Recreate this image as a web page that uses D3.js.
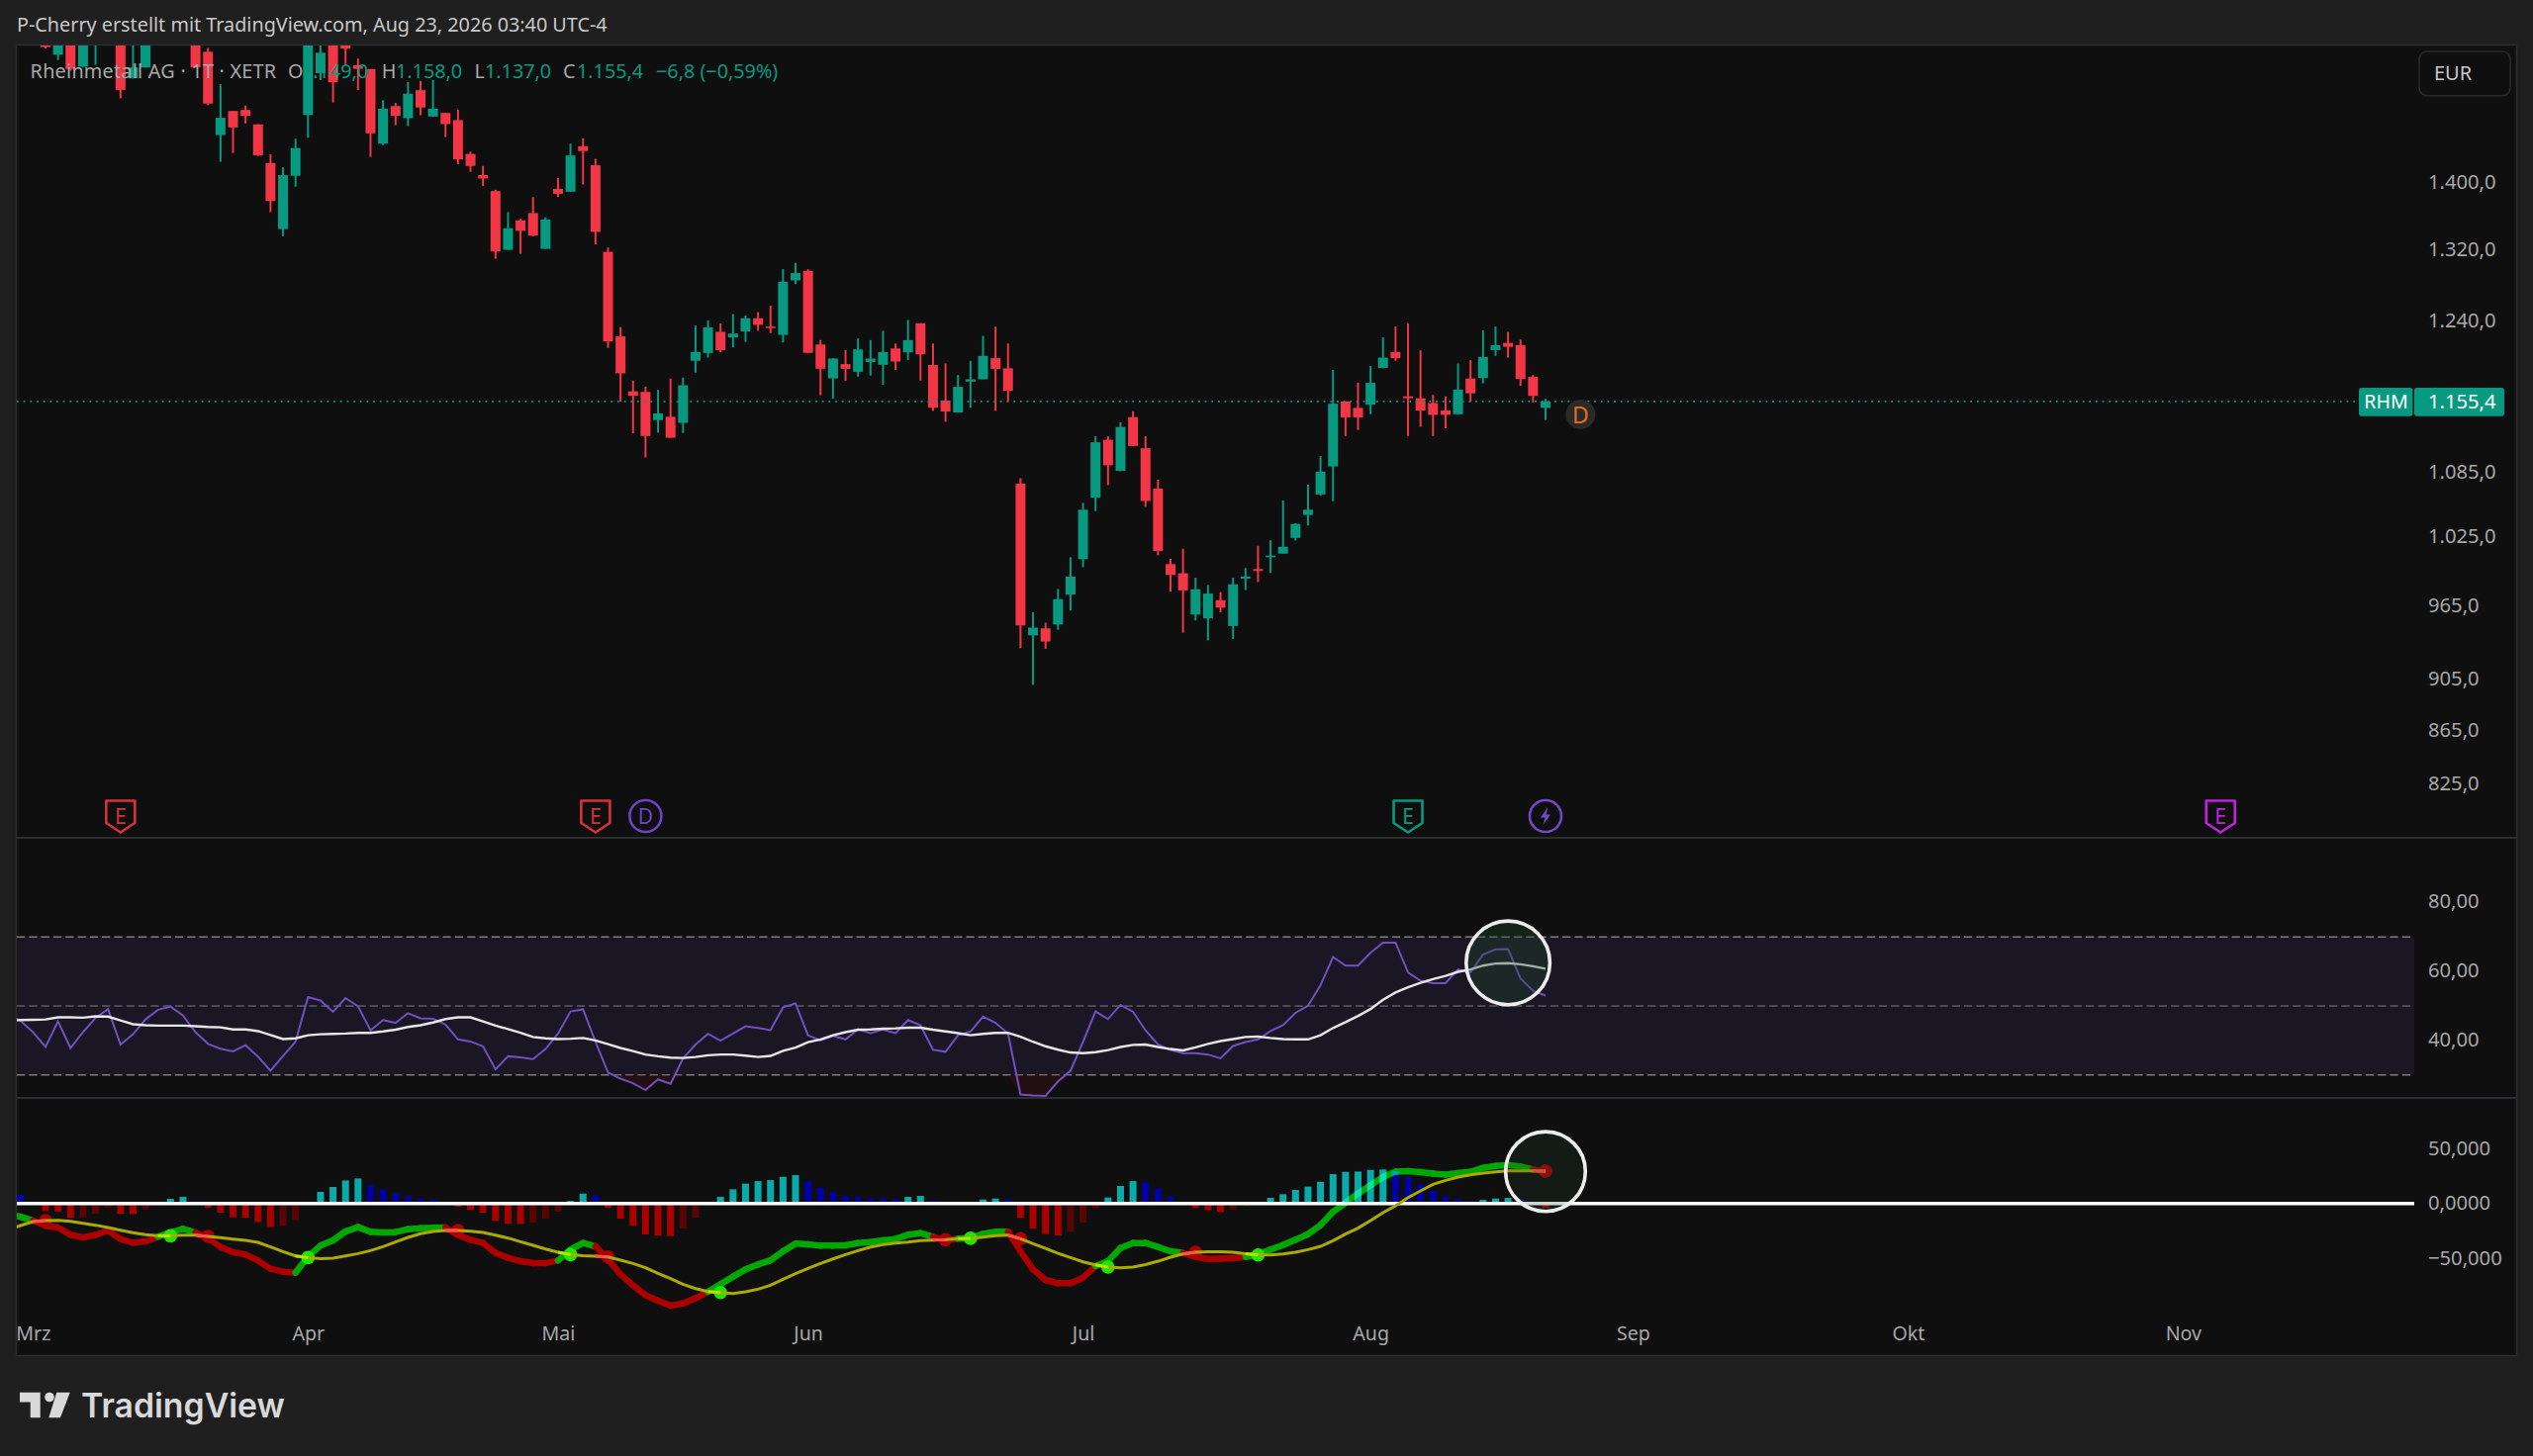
<!DOCTYPE html>
<html><head><meta charset="utf-8">
<script src="https://cdn.jsdelivr.net/npm/d3@7/dist/d3.min.js"></script>
<style>html,body{margin:0;background:#1f1f1f}svg{display:block}text{font-family:"Noto Sans",sans-serif}</style>
</head><body><svg id="c" width="2560" height="1472"></svg>
<script>
// ---------- data (bar index 0 = first candle shown) ----------
const opens=[1596,1567.5,1600,1551,1590,1640,1600,1535.3,1550,1610,1660,1630,1600,1571.5,1460.6,1491.8,1493.1,1474.3,1425.1,1344.5,1409.1,1486.5,1542.4,1590,1590,1553,1547.8,1449.5,1498.2,1482.4,1519.3,1484.5,1489.2,1479.8,1436.5,1410,1390.3,1320.3,1355,1363.6,1321.4,1393,1389.5,1446.1,1422.3,1318,1223.5,1165.8,1165.2,1136.7,1140,1133.9,1197.5,1205.8,1228.4,1222.4,1228.8,1243.2,1234.1,1225.2,1285.3,1296.2,1214.8,1179.1,1194,1186,1196.2,1193.4,1210.6,1206.5,1237.7,1193.1,1156.5,1144.3,1175.8,1178.2,1200.3,1189.6,1074.8,940.6,946.4,949.7,974.9,1005.8,1061.7,1117.2,1087.1,1139.7,1108.9,1070.1,1001.4,993.4,958,954.7,970.2,948.4,988.8,997.1,1007.5,1010.7,1024.8,1045.7,1064.7,1091.2,1155.4,1148.9,1152.2,1190,1206.8,1160.7,1158.7,1153.8,1146.3,1142.6,1179,1179.5,1208.9,1216.6,1214.1,1180.7,1149];
const highs=[1602,1605,1610,1615,1620,1660,1610,1590,1610,1660,1670,1640,1610,1577,1527.3,1491.8,1499,1474.3,1435.8,1419.8,1455.9,1600,1590,1600,1600,1562.1,1547.8,1505.9,1502.5,1530,1531.7,1533,1489.2,1493.6,1439.4,1421.4,1391.9,1364.8,1356.6,1383,1358.6,1406.3,1449.5,1456.3,1430.4,1323,1233.5,1176.9,1170.7,1167.3,1179,1180,1235.2,1240.7,1237.4,1247.8,1246.1,1249.8,1256.9,1298.1,1305.2,1298.1,1219.5,1200.3,1208.9,1221.3,1219.5,1229.6,1215.9,1241.4,1237.7,1215.9,1194.7,1182.8,1197.5,1224.1,1234.1,1215.9,1080.1,960,951.1,979.7,1007.5,1056.8,1120.6,1120.6,1134.4,1145.6,1120.6,1078.6,1006.1,1015.1,989.6,983.2,977.1,989.6,998,1017.7,1022.7,1059,1038.2,1073.9,1101.3,1187.9,1155.7,1174.8,1192,1222.4,1234.1,1237.4,1208.6,1162.1,1160.7,1194.7,1198.2,1230.2,1234.1,1228.4,1220.2,1182.8,1158];
const lows=[1576,1560,1545.5,1550,1553.6,1590,1508.5,1535,1550,1600,1610,1590,1550,1499.5,1426.7,1437.7,1475.6,1434,1364.8,1336.2,1395.6,1457.2,1533,1502.9,1554.5,1519.7,1432.8,1447.7,1473.4,1472.1,1486.2,1484.1,1458,1423.5,1414,1396.5,1310,1320.3,1315.8,1336.2,1321.4,1383,1389.5,1398.4,1326.5,1211.2,1155.4,1123.6,1100,1124.2,1119.2,1123.9,1185.1,1200.9,1206.5,1211.7,1217.6,1229.6,1227,1217,1281.2,1206,1161.7,1158.3,1176.7,1180.9,1182,1172.4,1187.9,1198.2,1176.9,1145.9,1135,1144.3,1149.2,1178.2,1145.9,1155.5,930,900.5,929.5,945.3,961.3,998.8,1049.3,1073.5,1086.7,1111.1,1053.2,1009.2,977.5,942.8,953,936.4,960,937.6,978.9,985.8,993.6,1010.7,1022.4,1036,1063.8,1058.4,1120.9,1126.8,1142.6,1189.6,1197.5,1120.9,1130,1120.9,1128.5,1142.6,1155.2,1174,1202.7,1200.9,1171.4,1154.5,1137];
const closes=[1578,1596,1548,1600,1610,1600,1519.7,1550,1600,1650,1625,1600,1550,1501.6,1482.9,1470.4,1485.4,1434.9,1378.2,1410,1443.9,1590,1570.2,1530,1576,1548,1462.8,1494.8,1485.4,1514.7,1496.4,1494.8,1474.7,1429.6,1421.4,1405.8,1318.5,1345.6,1342.5,1336.9,1355.9,1387,1434.5,1440.2,1341.3,1218.1,1184.4,1161.1,1120.9,1143.3,1119.2,1172,1206.8,1233.2,1208.9,1226.6,1243.2,1236,1232.6,1283.8,1293.6,1206,1189.2,1199.9,1189.1,1209.6,1199.9,1206.8,1196.8,1219.5,1204.4,1149.2,1145.3,1170.4,1178.2,1202.7,1189,1166.3,948.9,947,935.6,971,990.5,1050.5,1114.7,1092.4,1129.8,1111.1,1058.6,1013.1,991.9,978.6,979.5,975.8,963.8,983.8,990.5,995.4,1009,1016.8,1037.5,1050.5,1086.3,1153.2,1139.4,1139.4,1174.5,1200.9,1200.3,1158.7,1146.3,1141.9,1141.9,1167.6,1163.8,1201.6,1214.1,1212.3,1178.6,1161.1,1155.4];
// indicator arrays start three bars before the first candle
const indicatorStart=-3;
const rsi=[47.7,45.7,42.4,38.1,45.5,37.8,42.4,46.5,49.1,38.8,41.8,46.1,48.9,49.8,47.2,42.4,39,37.6,36.8,38.6,35.3,31.2,35.5,39.6,52.6,51.6,48.3,52.3,49.9,42.9,45.9,45.1,47.9,46.4,46.3,44.6,40.3,39.7,38.3,31.6,35.4,35.1,34.6,37.5,42,48.4,49,39.6,30.7,28.9,27.6,25.6,28.7,27.4,34.8,38.8,41.9,39.9,42,44.1,43.6,43,49.6,50.7,41.5,40,41.3,40.3,43.2,42.1,43.2,42.1,45.9,44.4,37.3,36.7,41.5,42.6,46.9,45.1,42,24.3,24,23.9,28.1,31.2,39.6,48.4,46.2,50.3,48.3,42.9,38.8,37.2,36.3,36.3,35.9,34.8,38.4,39.5,40.3,42.7,44.4,48,50.1,56,64.2,61.7,61.7,65.4,68.4,68.4,59.7,57.3,56.6,56.6,60.6,59.7,64.9,66.4,66.5,58,54.4,53];
const rsiMA=[45.8,45.9,46,46.1,46.7,46.7,46.6,47,46.9,45.8,44.7,44.4,44.3,44.3,44.3,44.1,43.9,43.8,43.2,43.2,42.7,41.6,40.4,40.6,41.5,41.8,41.9,42,42.2,42.2,42.6,43.1,43.9,44.4,45.2,46.2,46.7,46.7,45.5,44.3,43.3,42.2,41,40.6,40.4,40.5,40.7,40,38.9,37.8,36.9,35.9,35.4,35,34.9,35.2,35.7,35.9,35.9,35.6,35.2,35.5,37,37.9,39.5,40.3,41.5,42.4,43.1,43.2,43.4,43.5,43.7,43.7,43.1,42.6,42.1,41.5,41.9,42.2,42.2,41.1,39.6,38.3,37.3,36.5,36.3,36.6,37.2,38.1,38.7,38.8,38.1,37.5,37.1,38,39,39.8,40.4,41,41.1,40.7,40.4,40.3,40.3,41.5,43.6,45.3,47.1,49.1,51.8,53.9,55.4,56.7,57.8,58.7,59.9,60.6,61.7,62.3,62.4,62.1,61.5,60.8];
const macdLine=[-9.6,-12,-15.6,-20.3,-21.8,-28.4,-30.8,-28.7,-24.5,-32.3,-35.6,-34.4,-30.2,-26.3,-23,-26.3,-31.4,-39.5,-44.3,-46.4,-51.8,-59.2,-61.9,-62.8,-48,-38.3,-33.5,-25.4,-21.5,-25.7,-26.3,-26,-23.3,-22.4,-22.1,-21.8,-28.7,-32.9,-35.9,-44.9,-49.4,-52.4,-54.2,-54.2,-51.8,-41.9,-35.9,-38.9,-50.9,-64.3,-74.2,-83.2,-88.3,-92.8,-90.7,-85.9,-80.2,-73.3,-66.4,-59.8,-55.4,-51.5,-43.4,-36.5,-37.1,-38.3,-38.3,-38,-35.9,-35,-33.5,-32.3,-28.4,-26.9,-30.5,-33.2,-32,-31.4,-27.5,-25.7,-25.7,-43.4,-59.8,-69.4,-72.4,-72.4,-67.3,-56.9,-52.4,-40.4,-35.9,-35.9,-39.5,-43.4,-45,-48.5,-50.3,-50,-49.7,-48.5,-46.4,-41.9,-37.7,-32.9,-27.8,-19.7,-7.5,0.6,9,16.5,23.9,29,29.3,28.4,27.2,26.3,27.5,28.7,32.3,34.1,35,33.5,30.8,29];
const signalLine=[-24.2,-20,-16.5,-15.6,-15.3,-16.2,-18,-19.7,-21.8,-24.2,-26.6,-28.4,-29.3,-29.3,-28.7,-28.7,-29.9,-31.1,-32.3,-33.5,-35.3,-39.5,-43.7,-47.6,-49.1,-50,-49.7,-47.6,-45.5,-42.8,-39.2,-35,-30.8,-27.5,-25.4,-24.5,-24.5,-25.1,-26.3,-28.7,-31.4,-34.7,-38,-41.3,-44.3,-46.4,-47.3,-47.9,-48.5,-51.5,-54.5,-58.3,-63.4,-68.2,-73.3,-77.2,-79.9,-80.8,-81.7,-80.2,-77.8,-74.2,-68.8,-63.7,-58.9,-54.5,-50.3,-46.4,-42.8,-39.5,-37.4,-35.9,-35,-33.8,-33.2,-32.9,-31.9,-31.6,-30.5,-29.3,-28.7,-32,-36.5,-40.7,-45.2,-49.1,-53,-55.7,-57.7,-58.3,-57.7,-55.4,-52.4,-48.8,-45.8,-44.3,-43.7,-43.7,-44.3,-45.5,-46.7,-46.7,-45.8,-44.3,-41.9,-38.9,-33.8,-27.8,-22.4,-15.6,-8.4,-2.1,5.4,11.4,17.4,20.9,23.9,26,27.5,28.7,29.6,29.6,29.6,29.3];
const histogram=[12,8.1,1.8,-6.9,-7.2,-12.9,-12.6,-9.3,-3.6,-9.3,-9.6,-5.4,-0.6,4.2,6,1.8,-3.9,-8.4,-12.6,-12.9,-16.8,-21.2,-20.3,-15.3,-0.3,10.5,15,20.9,22.7,16.5,12.9,9.3,6.6,4.5,3.9,0.6,-3,-6,-8.4,-15.9,-18.3,-18.6,-17.4,-13.8,-7.5,2.4,9,7.5,-3.9,-13.8,-20.3,-28.1,-29.3,-29.6,-22.7,-12.9,-0.3,6,12.9,18,20.3,21.2,24.2,25.7,20.3,14.4,10.2,6.6,6,4.8,4.5,3.9,6,6.9,2.7,0.3,-0.3,0.6,3.6,4.5,3.9,-12.9,-22.7,-27.8,-29,-25.7,-17.4,-4.5,5.4,15.9,20.3,19.2,13.8,6.6,0.6,-3.9,-6,-7.8,-5.4,-2.4,-0.6,5.1,8.4,12.3,15.3,19.7,26.6,28.7,29,30.5,30.8,29.3,23.9,17.4,11.4,6.3,3.9,1.8,3.3,4.5,5.1,3.9,0.6,-3.9];
const crossBars=[0,10,13,21,33,42,45,54,72,74,78,85,92,97,120];
const priceTicks=[1400,1320,1240,1085,1025,965,905,865,825];
const rsiTicks=[80,60,40];
const rsiLevels=[70,50,30];
const macdTicks=[50,0,-50];
const macdTickLabels=["50,000","0,0000","−50,000"];
const monthLabels=["Mrz","Apr","Mai","Jun","Jul","Aug","Sep","Okt","Nov"];
const monthBars=[-1,21,41,61,83,106,127,149,171];
const events=[{bar:6,k:"E",c:"#d8303c"},{bar:44,k:"E",c:"#d8303c"},{bar:48,k:"D",c:"#6a44c8"},{bar:109,k:"E",c:"#089981"},{bar:120,k:"S",c:"#7048c8"},{bar:174,k:"E",c:"#c41fe0"}];
const lastPrice=1155.4;
const highlightBar=120, rsiCircleBar=117;

// ---------- scales ----------
const x=d3.scaleLinear().domain([0,120]).range([46,1562]);
const y=d3.scaleLog().domain([787.2,1581.6]).range([847,45]);
const yRsi=d3.scaleLinear().domain([30,70]).range([1086.7,947.3]);
const yMacd=d3.scaleLinear().domain([-50,50]).range([1272.4,1161]);
const loc=d3.formatLocale({decimal:",",thousands:".",grouping:[3],currency:["","€"]});
const fPrice=loc.format(",.1f"), fRsi=loc.format(".2f");
const FONT='"Noto Sans",sans-serif', AX="#a8a8a8", UP="#089981", DN="#f23645", AXFS=20.2, AXL=2454;
const PL=17,PR=2440,FR=2543,TOP=46,D1=847,D2=1110,BOT=1370;

const svg=d3.select("#c");
const defs=svg.append("defs");
const clip=(id,a,b,c,d)=>defs.append("clipPath").attr("id",id).append("rect").attr("x",a).attr("y",b).attr("width",c-a).attr("height",d-b);
clip("cMain",PL,TOP,PR,D1);clip("cRsi",PL,D1,PR,D2);clip("cMacd",PL,D2,PR,BOT);

svg.append("rect").attr("width",2560).attr("height",1472).attr("fill","#1f1f1f");
svg.append("rect").attr("x",PL-.5).attr("y",TOP-.5).attr("width",FR-PL+1).attr("height",BOT-TOP+1).attr("fill","#0f0f0f").attr("stroke","#2c2e2e").attr("stroke-width",1.5);
[D1,D2].forEach(v=>svg.append("line").attr("x1",PL).attr("x2",FR).attr("y1",v).attr("y2",v).attr("stroke","#2a2e2e").attr("stroke-width",2));

// ---------- candles ----------
const main=svg.append("g").attr("clip-path","url(#cMain)");
const idx=d3.range(opens.length);
const col=i=>closes[i]>=opens[i]?UP:DN;
main.selectAll(".w").data(idx).join("line").attr("x1",x).attr("x2",x)
  .attr("y1",i=>y(highs[i])).attr("y2",i=>y(lows[i])).attr("stroke",col).attr("stroke-width",2);
main.selectAll(".b").data(idx).join("rect").attr("x",i=>x(i)-5).attr("width",10)
  .attr("y",i=>y(Math.max(opens[i],closes[i])))
  .attr("height",i=>Math.max(1.5,Math.abs(y(opens[i])-y(closes[i])))).attr("fill",col);
main.append("line").attr("x1",PL).attr("x2",2384).attr("y1",y(lastPrice)).attr("y2",y(lastPrice))
  .attr("stroke",UP).attr("stroke-width",1.6).attr("stroke-dasharray","1.8 4.87");

const styleAxis=(g,dy)=>{g.select(".domain").remove();
  g.selectAll("text").attr("text-anchor","start").attr("x",0).attr("dy",dy).attr("fill",AX).attr("font-size",AXFS).attr("font-family",FONT);};

// price axis
const gP=svg.append("g").attr("transform",`translate(${AXL},0)`)
  .call(d3.axisRight(y).tickValues(priceTicks).tickFormat(fPrice).tickSize(0).tickPadding(0));
styleAxis(gP,"5.4");

// currency button
svg.append("rect").attr("x",2445).attr("y",52).attr("width",92).attr("height",44.7).attr("rx",8).attr("fill","#0f0f0f").attr("stroke","#2a2a2a").attr("stroke-width",1.5);
svg.append("text").attr("x",2460).attr("y",81).attr("fill","#c8c8c8").attr("font-size",20).text("EUR");

// last price tag
svg.append("rect").attr("x",2384).attr("y",392).attr("width",54.5).attr("height",28.7).attr("rx",3).attr("fill",UP);
svg.append("rect").attr("x",2440).attr("y",392).attr("width",91).attr("height",28.7).attr("rx",3).attr("fill",UP);
svg.append("text").attr("x",2411.5).attr("y",413).attr("text-anchor","middle").attr("fill","#fff").attr("font-size",19.6).text("RHM");
svg.append("text").attr("x",AXL).attr("y",413).attr("fill","#fff").attr("font-size",AXFS).text(fPrice(lastPrice));

// header and legend
svg.append("text").attr("x",17).attr("y",32).attr("fill","#c8c8c8").attr("font-size",19.8).text("P-Cherry erstellt mit TradingView.com, Aug 23, 2026 03:40 UTC-4");
const leg=svg.append("g").attr("font-size",19.8);
const legT=(px,t,c)=>leg.append("text").attr("x",px).attr("y",78.5).attr("fill",c).text(t);
legT(30.6,"Rheinmetall AG · 1T · XETR",AX).attr("letter-spacing",.25);
legT(291,"O",AX);legT(305,"1.149,0",UP);legT(385.7,"H",AX);legT(400,"1.158,0",UP);
legT(479.6,"L",AX);legT(490,"1.137,0",UP);legT(569,"C",AX);legT(583,"1.155,4",UP);legT(663,"−6,8 (−0,59%)",UP);

// event marks
const evG=svg.append("g").attr("fill","none").attr("stroke-width",2.6);
events.forEach(e=>{
  const g=evG.append("g").attr("transform",`translate(${x(e.bar)},825)`);
  if(e.k==="E"){
    g.append("path").attr("d","M-14.5,-15.5 H14.5 V7 L0,16.5 L-14.5,7 Z").attr("stroke",e.c).attr("stroke-linejoin","round");
    g.append("text").attr("y",7.5).attr("text-anchor","middle").attr("font-size",21).attr("fill",e.c).attr("stroke","none").text("E");
  }else{
    g.append("circle").attr("r",16).attr("stroke",e.c);
    if(e.k==="D") g.append("text").attr("y",7.5).attr("text-anchor","middle").attr("font-size",21).attr("fill",e.c).attr("stroke","none").text("D");
    else g.append("path").attr("d","M2.5,-9 L-5,1.5 L-0.5,1.5 L-2.5,9 L5,-1.5 L0.5,-1.5 Z").attr("fill",e.c).attr("stroke","none");
  }
});
const dm=svg.append("g").attr("transform",`translate(${x(122.8)},419)`);
dm.append("circle").attr("r",15).attr("fill","#2a2a2a");
dm.append("text").attr("y",8.5).attr("text-anchor","middle").attr("font-size",23).attr("fill","#e0701a").text("D");

// ---------- RSI ----------
const indBars=rsi.map((_,k)=>k+indicatorStart);
const rsiG=svg.append("g").attr("clip-path","url(#cRsi)");
rsiG.append("rect").attr("x",PL).attr("width",PR-PL).attr("y",yRsi(70)).attr("height",yRsi(30)-yRsi(70)).attr("fill","#1a1624");
rsiLevels.forEach(l=>rsiG.append("line").attr("x1",PL).attr("x2",PR).attr("y1",yRsi(l)).attr("y2",yRsi(l))
  .attr("stroke",l===50?"#5c5c62":"#7c7c82").attr("stroke-width",1.6).attr("stroke-dasharray","8.3 4"));
rsiG.append("path").datum(rsi).attr("fill","#3a0f16").attr("opacity",.45)
  .attr("d",d3.area().x((d,k)=>x(indBars[k])).y0(yRsi(30)).y1(d=>yRsi(Math.min(d,30))));
rsiG.append("path").datum(rsi).attr("fill","none").attr("stroke","#7050c0").attr("stroke-width",2)
  .attr("d",d3.line().x((d,k)=>x(indBars[k])).y(d=>yRsi(d)));
rsiG.append("path").datum(rsiMA).attr("fill","none").attr("stroke","#e6e6e6").attr("stroke-width",2.4)
  .attr("d",d3.line().x((d,k)=>x(indBars[k])).y(d=>yRsi(d)));
const gR=svg.append("g").attr("transform",`translate(${AXL},0)`)
  .call(d3.axisRight(yRsi).tickValues(rsiTicks).tickFormat(fRsi).tickSize(0).tickPadding(0));
styleAxis(gR,"5.4");

// ---------- MACD ----------
const mG=svg.append("g").attr("clip-path","url(#cMacd)");
const hCol=k=>{const v=histogram[k],p=k?histogram[k-1]:v-1;
  return v>=0?(v>=p?"#0aaaaa":"#0000aa"):(v<p?"#aa0000":"#5a0505");};
mG.selectAll(".h").data(histogram).join("rect")
  .attr("x",(d,k)=>x(indBars[k])-3.5).attr("width",7)
  .attr("y",d=>yMacd(Math.max(d,0))).attr("height",d=>Math.abs(yMacd(d)-yMacd(0))).attr("fill",(d,k)=>hCol(k));
mG.append("line").attr("x1",PL).attr("x2",PR).attr("y1",yMacd(0)).attr("y2",yMacd(0)).attr("stroke","#fff").attr("stroke-width",3.4);
const seg=d3.line().x(d=>x(d.b)).y(d=>yMacd(d.v));
const above=k=>macdLine[k]>=signalLine[k];
const segLayer=mG.append("g").style("mix-blend-mode","screen");
d3.range(1,macdLine.length).forEach(k=>{
  segLayer.append("path").attr("fill","none").attr("stroke-width",6.5).attr("stroke-linecap","round")
   .attr("stroke",above(k)?"#00a800":"#aa0000")
   .attr("d",seg([{b:indBars[k-1],v:macdLine[k-1]},{b:indBars[k],v:macdLine[k]}]));
});
const barK=b=>b-indicatorStart;
crossBars.forEach(b=>{
  mG.append("circle").attr("cx",x(b)).attr("cy",yMacd(signalLine[barK(b)])).attr("r",6.8).attr("fill",above(barK(b))?"#1ee600":"#aa0000");
});
mG.append("path").datum(signalLine).attr("fill","none").attr("stroke","#aaaa00").attr("stroke-width",3)
  .attr("d",d3.line().x((d,k)=>x(indBars[k])).y(d=>yMacd(d)));
crossBars.forEach(b=>{
  const k=barK(b);
  mG.append("path").attr("fill","none").attr("stroke-width",3).attr("stroke",above(k)?"#b4e400":"#ff5050")
    .attr("d",seg([{b:b-1,v:signalLine[k-1]},{b:b,v:signalLine[k]}]));
});
const gM=svg.append("g").attr("transform",`translate(${AXL},0)`)
  .call(d3.axisRight(yMacd).tickValues(macdTicks).tickFormat((d,k)=>macdTickLabels[k]).tickSize(0).tickPadding(0));
styleAxis(gM,"6");

// highlight circles
svg.append("circle").attr("cx",x(rsiCircleBar)).attr("cy",yRsi(62.5)).attr("r",42.3)
  .attr("fill","#1f4a2e").attr("fill-opacity",.35).attr("stroke","#ececec").attr("stroke-width",3.6);
svg.append("circle").attr("cx",x(highlightBar)).attr("cy",yMacd(29)).attr("r",40.3)
  .attr("fill","#2a4a30").attr("fill-opacity",.22).attr("stroke","#ececec").attr("stroke-width",3.6);

// ---------- time axis ----------
const gT=svg.append("g").attr("transform","translate(0,1355)")
  .call(d3.axisBottom(x).tickValues(monthBars).tickFormat((d,k)=>monthLabels[k]).tickSize(0).tickPadding(0));
gT.select(".domain").remove();
gT.selectAll("text").attr("dy",0).attr("fill",AX).attr("font-size",19.6).attr("font-family",FONT);

// ---------- branding ----------
const logo=svg.append("g").attr("fill","#d9d9d9");
logo.append("path").attr("d","M20,1407.7 H40.7 V1433.3 H30.7 V1417.5 H20 Z");
logo.append("circle").attr("cx",50).attr("cy",1412.5).attr("r",4.8);
logo.append("path").attr("d","M57.3,1407.7 H70.7 L61,1433.3 H49.3 Z");
logo.append("text").attr("x",82).attr("y",1433).attr("font-size",33.8).attr("font-weight",600).style("font-family","Inter,sans-serif").text("TradingView");
</script></body></html>
